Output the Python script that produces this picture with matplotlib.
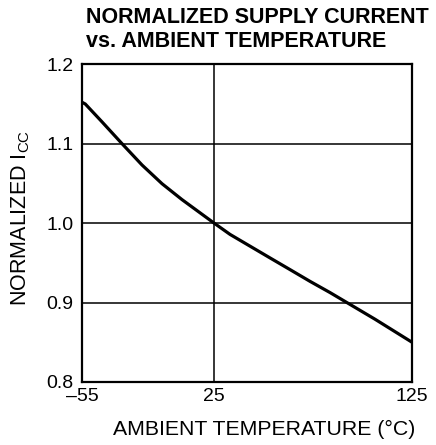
import numpy as np
import matplotlib
matplotlib.use('Agg')
import matplotlib.pyplot as plt

# curve
temps = [-55, -53, -42.9, -30.8, -18.6, -6.5, 5.6, 25, 33.1, 43.2, 53.3,
         63.4, 73.5, 83.6, 106.3, 125]
icc = [1.152, 1.1498, 1.1274, 1.10, 1.073, 1.0495, 1.0295, 1.0, 0.9857,
       0.9709, 0.9561, 0.9414, 0.9266, 0.9125, 0.879, 0.85]

xticks = [-55, 25, 125]
xtick_labels = ['\u201355', '25', '125']
yticks = [0.8, 0.9, 1.0, 1.1, 1.2]
ytick_labels = ['0.8', '0.9', '1.0', '1.1', '1.2']

plt.rcParams['font.family'] = ['Liberation Sans', 'DejaVu Sans']


# the original grid puts 25 at 40% of the width
def fwd(t):
    t = np.asarray(t, dtype=float)
    return np.where(t < 25, (t + 55) * 0.005, 0.4 + (t - 25) * 0.006)


def inv(u):
    u = np.asarray(u, dtype=float)
    return np.where(u < 0.4, u / 0.005 - 55, 25 + (u - 0.4) / 0.006)


fig = plt.figure(figsize=(4.36, 4.45), dpi=100)
ax = fig.add_axes([0.188, 0.1416, 0.757, 0.7144])
ax.set_xscale('function', functions=(fwd, inv))

ax.plot(temps, icc, color='black', lw=2.3, solid_capstyle='butt',
        solid_joinstyle='round')

ax.set_xlim(-55, 125)
ax.set_ylim(0.8, 1.2)
ax.set_xticks(xticks)
ax.set_xticklabels(xtick_labels)
ax.set_yticks(yticks)
ax.set_yticklabels(ytick_labels)
ax.minorticks_off()
ax.tick_params(length=0, labelsize=14)
ax.tick_params(axis='y', pad=6)
ax.tick_params(axis='x', pad=4)
ax.grid(True, color='black', lw=1.1)
for s in ax.spines.values():
    s.set_linewidth(1.6)

fig.text(264 / 436, 1 - 429 / 445, 'AMBIENT TEMPERATURE (\u00b0C)',
         fontsize=15.3, ha='center', va='center')
fig.text(21 / 436, 1 - 218 / 445, r'NORMALIZED I$\mathregular{_{CC}}$',
         fontsize=15.5, ha='center', va='center', rotation=90)

fig.text(0.197, 0.985, 'NORMALIZED SUPPLY CURRENT\nvs. AMBIENT TEMPERATURE',
         fontsize=15.5, fontweight='bold', ha='left', va='top', linespacing=1.2)

fig.savefig('out.png', dpi=100)
